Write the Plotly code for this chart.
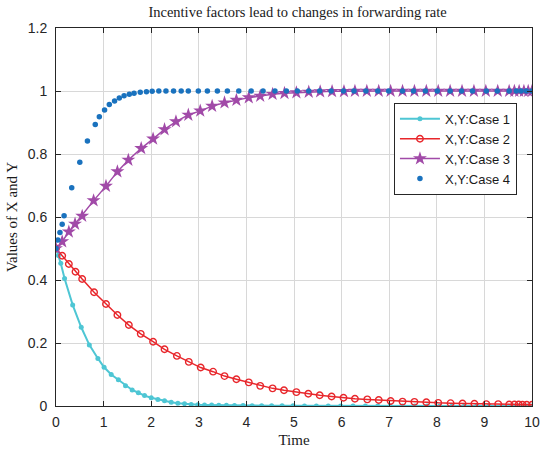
import plotly.graph_objects as go

# ---- data ----
t_case1 = [0, 0.05, 0.10, 0.18, 0.35, 0.53, 0.70, 0.88, 1.01, 1.16, 1.31, 1.46, 1.60, 1.73, 1.86,
           2.00, 2.14, 2.28, 2.42, 2.56, 2.70, 2.84, 2.98, 3.12, 3.27, 3.42, 3.58, 3.75, 3.93,
           4.12, 4.32, 4.53, 4.75, 4.98, 5.22, 5.47, 5.72, 5.98, 6.24, 6.50, 6.76, 7.02, 7.28,
           7.54, 7.80, 8.06, 8.32, 8.58, 8.84, 9.10, 9.36, 9.60, 9.70, 9.80, 9.90, 10.0]
y_case1 = [0.500, 0.478, 0.453, 0.405, 0.321, 0.250, 0.194, 0.151, 0.123, 0.100, 0.083, 0.064,
           0.051, 0.042, 0.033, 0.026, 0.021, 0.017, 0.012, 0.009, 0.007, 0.005, 0.004, 0.0035,
           0.003, 0.0025, 0.002, 0.0017, 0.0014, 0.0011, 0.0009, 0.0007, 0.0005, 0.0004, 0.0003,
           0.0002, 0.0002, 0.0001, 0.0001, 0.0001, 0, 0, 0, 0, 0, 0, 0, 0, 0, 0, 0, 0, 0, 0, 0, 0]

t_case2 = [0, 0.13, 0.27, 0.41, 0.55, 0.80, 1.05, 1.29, 1.53, 1.78, 2.04, 2.28, 2.54, 2.79, 3.04,
           3.30, 3.54, 3.79, 4.05, 4.29, 4.55, 4.79, 5.05, 5.30, 5.54, 5.79, 6.04, 6.28, 6.54,
           6.78, 7.03, 7.28, 7.53, 7.78, 8.03, 8.29, 8.54, 8.79, 9.04, 9.29, 9.52, 9.63, 9.72,
           9.80, 9.89, 10.0]
y_case2 = [0.500, 0.477, 0.451, 0.426, 0.403, 0.361, 0.324, 0.289, 0.257, 0.229, 0.204, 0.180,
           0.159, 0.140, 0.122, 0.109, 0.095, 0.085, 0.075, 0.064, 0.056, 0.050, 0.044, 0.039,
           0.034, 0.030, 0.026, 0.023, 0.021, 0.019, 0.016, 0.014, 0.013, 0.012, 0.010, 0.009,
           0.008, 0.007, 0.006, 0.006, 0.005, 0.005, 0.005, 0.004, 0.004, 0.004]

t_case3 = [0, 0.13, 0.27, 0.40, 0.55, 0.79, 1.05, 1.29, 1.52, 1.79, 2.04, 2.28, 2.52, 2.78, 3.03,
           3.28, 3.54, 3.79, 4.05, 4.29, 4.55, 4.80, 5.05, 5.31, 5.55, 5.80, 6.05, 6.28, 6.53,
           6.78, 7.03, 7.28, 7.53, 7.78, 8.03, 8.28, 8.53, 8.78, 9.03, 9.28, 9.52, 9.63, 9.73,
           9.83, 9.92, 10.0]
y_case3 = [0.500, 0.522, 0.553, 0.578, 0.603, 0.652, 0.698, 0.744, 0.781, 0.818, 0.848, 0.878,
           0.903, 0.924, 0.937, 0.952, 0.963, 0.971, 0.979, 0.984, 0.990, 0.993, 0.995, 0.997,
           0.998, 0.999, 0.999, 1.0, 1.0, 1.0, 1.0, 1.0, 1.0, 1.0, 1.0, 1.0, 1.0, 1.0, 1.0, 1.0,
           1.0, 1.0, 1.0, 1.0, 1.0, 1.0]

t_case4 = [0, 0.04, 0.083, 0.13, 0.17, 0.33, 0.50, 0.66, 0.825, 0.91, 1.02, 1.12, 1.23, 1.33,
           1.43, 1.54, 1.64, 1.77, 1.90, 2.02, 2.16, 2.31, 2.47, 2.63, 2.78, 2.99, 3.18, 3.39,
           3.60, 3.84, 4.10, 4.35, 4.60, 4.84, 5.07, 5.31, 5.54, 5.78, 6.04, 6.26, 6.51, 6.76,
           6.99, 7.28, 7.51, 7.76, 8.01, 8.28, 8.52, 8.75, 9.04, 9.27, 9.52, 9.67, 9.77, 9.88, 10.0]
y_case4 = [0.500, 0.527, 0.551, 0.577, 0.604, 0.693, 0.774, 0.841, 0.894, 0.918, 0.940, 0.957,
           0.968, 0.978, 0.985, 0.990, 0.993, 0.996, 0.998, 0.999, 1.0, 1.0, 1.0, 1.0, 1.0, 1.0,
           1.0, 1.0, 1.0, 1.0, 1.0, 1.0, 1.0, 1.0, 1.0, 1.0, 1.0, 1.0, 1.0, 1.0, 1.0, 1.0, 1.0,
           1.0, 1.0, 1.0, 1.0, 1.0, 1.0, 1.0, 1.0, 1.0, 1.0, 1.0, 1.0, 1.0, 1.0]

series_names = ["X,Y:Case 1", "X,Y:Case 2", "X,Y:Case 3", "X,Y:Case 4"]
x_ticks = [0, 1, 2, 3, 4, 5, 6, 7, 8, 9, 10]
y_ticks = [0, 0.2, 0.4, 0.6, 0.8, 1.0, 1.2]
y_tick_text = ["0", "0.2", "0.4", "0.6", "0.8", "1", "1.2"]

c_cyan = "#4EC6D4"
c_red = "#E8262B"
c_purple = "#A14AA8"
c_blue = "#1A72BE"

serif = "Liberation Serif, Times New Roman, serif"
sans = "Liberation Sans, Arial, sans-serif"

fig = go.Figure()
fig.add_trace(go.Scatter(x=t_case1, y=y_case1, name=series_names[0], mode="lines+markers",
                         line=dict(color=c_cyan, width=2),
                         marker=dict(symbol="circle", size=5, color=c_cyan)))
fig.add_trace(go.Scatter(x=t_case2, y=y_case2, name=series_names[1], mode="lines+markers",
                         line=dict(color=c_red, width=1.5),
                         marker=dict(symbol="circle-open", size=6.5, color=c_red,
                                     line=dict(width=1.4, color=c_red))))
fig.add_trace(go.Scatter(x=t_case3, y=y_case3, name=series_names[2], mode="lines+markers",
                         line=dict(color=c_purple, width=1.5),
                         marker=dict(symbol="star", size=10.5, color=c_purple)))
fig.add_trace(go.Scatter(x=t_case4, y=y_case4, name=series_names[3], mode="markers",
                         marker=dict(symbol="circle", size=5.5, color=c_blue)))

axis_common = dict(showline=True, linecolor="#262626", linewidth=1, mirror="allticks",
                   ticks="inside", ticklen=5, tickcolor="#262626",
                   showgrid=True, gridcolor="#D8D8D8", gridwidth=1, zeroline=False,
                   ticklabeloverflow="allow", automargin=False,
                   tickfont=dict(family=sans, size=14, color="#262626"))

fig.update_layout(
    width=541, height=449,
    margin=dict(l=56, r=9, t=28, b=43),
    paper_bgcolor="white", plot_bgcolor="white",
    title=dict(text="Incentive factors lead to changes in forwarding rate",
               font=dict(family=serif, size=14.5, color="#1a1a1a"),
               x=0.55, xanchor="center", y=0.973, yanchor="middle"),
    xaxis=dict(range=[0, 10], tickvals=x_ticks, ticklabelstandoff=3,
               title=dict(text="Time", standoff=5,
                          font=dict(family=serif, size=15, color="#1a1a1a")),
               **axis_common),
    yaxis=dict(range=[0, 1.2], tickvals=y_ticks, ticktext=y_tick_text, ticklabelstandoff=5,
               title=dict(text="Values of X and Y", standoff=6,
                          font=dict(family=serif, size=15, color="#1a1a1a")),
               **axis_common),
    legend=dict(x=0.71, y=0.802, xanchor="left", yanchor="top",
                bgcolor="white", bordercolor="#262626", borderwidth=1,
                font=dict(family=sans, size=13, color="#1a1a1a"),
                tracegroupgap=0, itemwidth=40),
    showlegend=True,
)

fig.write_html("out.html")
